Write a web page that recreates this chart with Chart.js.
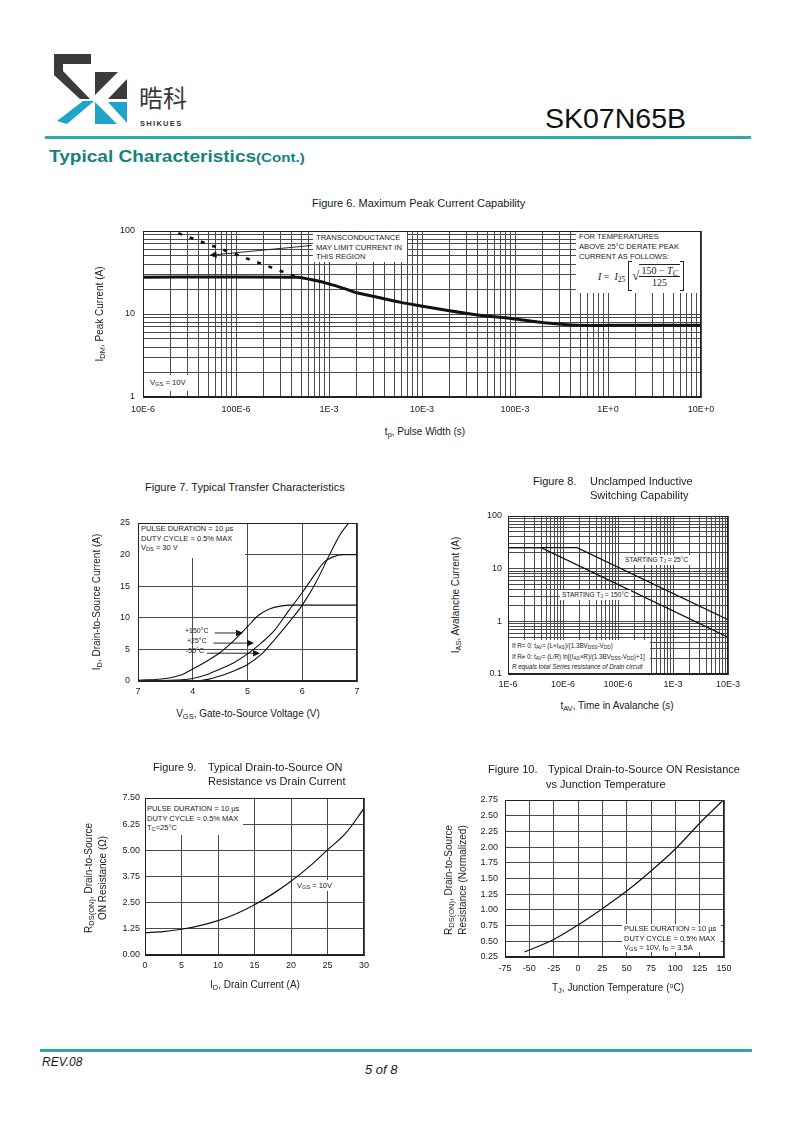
<!DOCTYPE html>
<html><head><meta charset="utf-8">
<script src="https://cdn.jsdelivr.net/npm/chart.js@4/dist/chart.umd.min.js"></script>
<style>
html,body{margin:0;padding:0;background:#fff;}
#page{position:relative;width:800px;height:1132px;overflow:hidden;font-family:"Liberation Sans",Arial,sans-serif;color:#1a1a1a;}
.abs{position:absolute;white-space:nowrap;}
.ctr{position:absolute;white-space:nowrap;transform:translate(-50%,-50%);}
.rot{position:absolute;white-space:nowrap;transform:translate(-50%,-50%) rotate(-90deg);text-align:center;}
canvas{position:absolute;}
.ttl{font-size:11px;line-height:12px;}
.axt{font-size:10px;line-height:14px;}
.box{position:absolute;background:#fff;font-size:7.5px;line-height:9.6px;white-space:nowrap;box-sizing:border-box;}
sub{font-size:75%;vertical-align:-0.25em;line-height:0;}
sup{font-size:70%;vertical-align:0.4em;line-height:0;}
.formula{display:flex;align-items:center;font-family:"Liberation Serif","DejaVu Serif",serif;font-size:10px;}
.brk{display:inline-block;width:3px;height:28px;border:1px solid #222;}
.brk.l{border-right:none;margin-left:3px;}
.brk.r{border-left:none;}
.frac{display:inline-flex;flex-direction:column;align-items:center;line-height:11px;}
.num{border-top:1px solid #222;border-bottom:1px solid #222;padding:0 2px;}
</style></head>
<body>
<div id="page">
  <!-- logo -->
  <svg class="abs" style="left:0;top:0" width="200" height="140" viewBox="0 0 200 140">
    <polygon points="54,54 91,54 91,64 63,64 63,71 90,99 80,99 54,75" fill="#3b3b3b"/>
    <polygon points="95,72 118,72 95,95" fill="#3b3b3b"/>
    <polygon points="108,99 127,79 127,99" fill="#3b3b3b"/>
    <polygon points="57,121 67,124 94,101 83,101" fill="#1ea4c6"/>
    <polygon points="95,102 117,124 95,124" fill="#1ea4c6"/>
    <polygon points="108,102 127,102 127,123" fill="#1ea4c6"/>
  </svg>
  <div class="abs" style="left:139px;top:83px;font-family:'Noto Sans CJK SC';font-size:24px;line-height:28px;color:#3a3a3a;">晧科</div>
  <div class="abs" style="left:140px;top:119px;font-size:7.5px;font-weight:bold;letter-spacing:1.3px;color:#333;">SHIKUES</div>
  <div class="abs" style="left:545px;top:103px;font-size:28.5px;line-height:30px;color:#111;">SK07N65B</div>
  <div class="abs" style="left:45px;top:136px;width:706px;height:3px;background:#2ea9a6;"></div>
  <div class="abs" style="left:49px;top:147px;line-height:20px;color:#15827c;font-weight:bold;transform:scaleX(1.12);transform-origin:0 0;"><span style="font-size:17px;">Typical Characteristics</span><span style="font-size:13.5px;">(Cont.)</span></div>

  <div id="charts"></div>

  <!-- Figure 6 texts -->
  <div class="abs ttl" style="left:312px;top:197px;">Figure 6. Maximum Peak Current Capability</div>
  <div class="rot axt" style="left:100px;top:314px;">I<sub>DM</sub>, Peak Current (A)</div>
  <div class="ctr axt" style="left:425px;top:432px;">t<sub>p</sub>, Pulse Width (s)</div>
  <div class="box" style="left:313px;top:232px;width:94px;height:30px;padding:1px 0 0 3px;font-size:7.6px;">TRANSCONDUCTANCE<br>MAY LIMIT CURRENT IN<br>THIS REGION</div>
  <div class="box" style="left:576px;top:232px;width:124px;height:61px;padding:0 0 0 3px;font-size:7.6px;line-height:10px;">FOR TEMPERATURES<br>ABOVE 25°C DERATE PEAK<br>CURRENT AS FOLLOWS:</div>
  <div class="abs formula" style="left:598px;top:261px;">
    <span><i>I</i>&nbsp;=&nbsp; <i>I</i><sub>25</sub></span><span class="brk l"></span><span style="font-size:13px;">√</span><span class="frac"><span class="num">150 − <i>T</i><sub><i>C</i></sub></span><span>125</span></span><span class="brk r"></span>
  </div>
  <div class="box" style="left:146px;top:375px;width:44px;height:16px;padding:3px 0 0 4px;font-size:7.6px;">V<sub>GS</sub> = 10V</div>

  <!-- Figure 7 texts -->
  <div class="abs ttl" style="left:145px;top:481px;">Figure 7. Typical Transfer Characteristics</div>
  <div class="rot axt" style="left:97px;top:602px;">I<sub>D</sub>, Drain-to-Source Current (A)</div>
  <div class="ctr axt" style="left:248px;top:714px;">V<sub>GS</sub>, Gate-to-Source Voltage (V)</div>
  <div class="box" style="left:139px;top:524px;width:106px;height:34px;padding:0 0 0 2px;">PULSE DURATION = 10 µs<br>DUTY CYCLE = 0.5% MAX<br>V<sub>DS</sub> = 30 V</div>
  <div class="abs" style="left:185px;top:627px;font-size:7px;">+150°C</div>
  <div class="abs" style="left:187px;top:637px;font-size:7px;">+25°C</div>
  <div class="abs" style="left:186px;top:647px;font-size:7px;">-55°C</div>

  <!-- Figure 8 texts -->
  <div class="abs ttl" style="left:533px;top:475px;">Figure 8.</div>
  <div class="abs ttl" style="left:590px;top:475px;">Unclamped Inductive</div>
  <div class="abs ttl" style="left:590px;top:489px;">Switching Capability</div>
  <div class="rot axt" style="left:456px;top:595px;">I<sub>AS</sub>, Avalanche Current (A)</div>
  <div class="ctr axt" style="left:617px;top:706px;">t<sub>AV</sub>, Time in Avalanche (s)</div>
  <div class="box" style="left:623px;top:555px;padding:0 2px;font-size:6.6px;line-height:10px;">STARTING T<sub>J</sub> = 25°C</div>
  <div class="box" style="left:560px;top:590px;padding:0 2px;font-size:6.6px;line-height:10px;">STARTING T<sub>J</sub> = 150°C</div>
  <div class="box" style="left:509px;top:640px;width:141px;height:33px;padding:1px 0 0 3px;font-size:6.3px;line-height:10.5px;">If R= 0: t<sub>AV</sub>= (L×I<sub>AS</sub>)/(1.3BV<sub>DSS</sub>-V<sub>DD</sub>)<br>If R≠ 0: t<sub>AV</sub>= (L/R) ln[(I<sub>AS</sub>×R)/(1.3BV<sub>DSS</sub>-V<sub>DD</sub>)+1]<br><i>R equals total Series resistance of Drain circuit</i></div>

  <!-- Figure 9 texts -->
  <div class="abs ttl" style="left:153px;top:761px;">Figure 9.</div>
  <div class="abs ttl" style="left:208px;top:761px;">Typical Drain-to-Source ON</div>
  <div class="abs ttl" style="left:208px;top:775px;">Resistance vs Drain Current</div>
  <div class="rot axt" style="left:96px;top:878px;">R<sub>DS(ON)</sub>, Drain-to-Source<br>ON Resistance (Ω)</div>
  <div class="ctr axt" style="left:255px;top:985px;">I<sub>D</sub>, Drain Current (A)</div>
  <div class="box" style="left:146px;top:799px;width:97px;height:36px;padding:5px 0 0 1px;">PULSE DURATION = 10 µs<br>DUTY CYCLE = 0.5% MAX<br>T<sub>C</sub>=25°C</div>
  <div class="box" style="left:296px;top:880px;padding:0 1px;line-height:11px;">V<sub>GS</sub> = 10V</div>

  <!-- Figure 10 texts -->
  <div class="abs ttl" style="left:488px;top:763px;">Figure 10.</div>
  <div class="abs ttl" style="left:548px;top:763px;">Typical Drain-to-Source ON Resistance</div>
  <div class="abs ttl" style="left:546px;top:778px;">vs Junction Temperature</div>
  <div class="rot axt" style="left:456px;top:880px;">R<sub>DS(ON)</sub>, Drain-to-Source<br>Resistance (Normalized)</div>
  <div class="ctr axt" style="left:618px;top:988px;">T<sub>J</sub>, Junction Temperature (<sup>o</sup>C)</div>
  <div class="box" style="left:622px;top:924px;width:99px;height:28px;padding:0 0 0 2px;">PULSE DURATION = 10 µs<br>DUTY CYCLE = 0.5% MAX<br>V<sub>GS</sub> = 10V, I<sub>D</sub> = 3.5A</div>

  <!-- footer -->
  <div class="abs" style="left:40px;top:1049px;width:712px;height:3px;background:#2ea9a6;"></div>
  <div class="abs" style="left:42px;top:1055px;font-size:12px;font-style:italic;">REV.08</div>
  <div class="abs" style="left:365px;top:1062px;font-size:13px;font-style:italic;">5 of 8</div>
</div>

<script>
// ================= DATA =================
// Figure 6 - Maximum Peak Current Capability
const fig6XTickValues = [1e-5, 1e-4, 1e-3, 1e-2, 1e-1, 1, 10];
const fig6XTickLabels = ['10E-6', '100E-6', '1E-3', '10E-3', '100E-3', '1E+0', '10E+0'];
const fig6YTickValues = [1, 10, 100];
const fig6YTickLabels = ['1', '10', '100'];
const fig6PulseWidth = [1e-5, 4.6e-4, 7.2e-4, 1.0e-3, 1.5e-3, 2.0e-3, 3.3e-3, 5.9e-3, 9.8e-3, 1.9e-2, 3.8e-2, 0.1, 0.22, 0.48, 1, 10];
const fig6PeakCurrent = [27.8, 27.8, 25.3, 23.1, 20.1, 18.0, 15.9, 13.8, 12.5, 11.0, 9.8, 8.7, 7.8, 7.3, 7.3, 7.3];
const fig6LimitWidth = [2.4e-5, 4.6e-4];
const fig6LimitCurrent = [94, 27.8];

// Figure 7 - Typical Transfer Characteristics
const fig7XTickValues = [3, 4, 5, 6, 7];
const fig7XTickLabels = ['7', '4', '5', '6', '7'];
const fig7YTickValues = [0, 5, 10, 15, 20, 25];
const fig7YTickLabels = ['0', '5', '10', '15', '20', '25'];
const fig7Vgs150 = [3, 3.5, 3.8, 4, 4.25, 4.5, 4.75, 5, 5.2, 5.4, 5.6, 5.8, 7];
const fig7Id150 = [0.1, 0.4, 1.0, 1.9, 3.1, 4.5, 6.4, 8.6, 10.4, 11.4, 11.85, 12, 12];
const fig7Vgs25 = [3, 3.8, 4, 4.25, 4.5, 4.75, 5, 5.25, 5.5, 5.75, 6, 6.25, 6.4, 6.55, 6.75, 7];
const fig7Id25 = [0, 0.2, 0.4, 1.0, 1.9, 2.9, 4.3, 6.0, 8.1, 11.1, 14, 17.1, 18.8, 19.6, 20, 20];
const fig7VgsM55 = [3, 4, 4.3, 4.5, 4.75, 5, 5.25, 5.5, 5.75, 6, 6.25, 6.5, 6.7, 6.85];
const fig7IdM55 = [0, 0, 0.3, 0.8, 1.6, 2.6, 4.2, 6.6, 9.2, 12, 15.6, 20, 23.3, 25];

// Figure 8 - Unclamped Inductive Switching Capability
const fig8XTickValues = [1e-6, 1e-5, 1e-4, 1e-3, 1e-2];
const fig8XTickLabels = ['1E-6', '10E-6', '100E-6', '1E-3', '10E-3'];
const fig8YTickValues = [0.1, 1, 10, 100];
const fig8YTickLabels = ['0.1', '1', '10', '100'];
const fig8Time25 = [1e-6, 1.8e-5, 1e-2];
const fig8Current25 = [25, 25, 1.07];
const fig8Time150 = [1e-6, 4e-6, 1e-2];
const fig8Current150 = [25, 25, 0.5];

// Figure 9 - On resistance vs drain current
const fig9XTickValues = [0, 5, 10, 15, 20, 25, 30];
const fig9XTickLabels = ['0', '5', '10', '15', '20', '25', '30'];
const fig9YTickValues = [0, 1.25, 2.5, 3.75, 5, 6.25, 7.5];
const fig9YTickLabels = ['0.00', '1.25', '2.50', '3.75', '5.00', '6.25', '7.50'];
const fig9Id = [0, 2.5, 5, 7.5, 10, 12.5, 15, 17.5, 20, 22.5, 25, 27.5, 30];
const fig9Rds = [1.07, 1.12, 1.23, 1.40, 1.64, 1.97, 2.40, 2.92, 3.52, 4.22, 5.02, 5.82, 7.0];

// Figure 10 - Normalized on resistance vs junction temperature
const fig10XTickValues = [-75, -50, -25, 0, 25, 50, 75, 100, 125, 150];
const fig10XTickLabels = ['-75', '-50', '-25', '0', '25', '50', '75', '100', '125', '150'];
const fig10YTickValues = [0.25, 0.5, 0.75, 1, 1.25, 1.5, 1.75, 2, 2.25, 2.5, 2.75];
const fig10YTickLabels = ['0.25', '0.50', '0.75', '1.00', '1.25', '1.50', '1.75', '2.00', '2.25', '2.50', '2.75'];
const fig10Tj = [-55, -25, 0, 25, 50, 75, 100, 125, 150];
const fig10Rds = [0.33, 0.53, 0.76, 1.02, 1.30, 1.62, 1.97, 2.38, 2.76];

// Annotation anchors (data units)
const fig6Arrow = {from: [6.5e-4, 67], to: [5.2e-5, 51]};
const fig7Arrows = [
  {from: [4.4, 7.6], to: [4.92, 7.6]},
  {from: [4.38, 6.0], to: [5.12, 6.0]},
  {from: [4.26, 4.4], to: [5.23, 4.4]}
];

// ================= HELPERS =================
const FONT = '"Liberation Sans", Arial, sans-serif';
const pts = (xs, ys) => xs.map((x, i) => ({x: x, y: ys[i]}));
function logGrid(decades) {
  const out = [];
  for (let i = 0; i < decades.length - 1; i++) {
    for (let k = 1; k < 10; k++) out.push(decades[i] * k);
  }
  out.push(decades[decades.length - 1]);
  return out;
}
function axis(o) {
  return {
    type: o.type, position: o.pos, min: o.min, max: o.max,
    afterBuildTicks: s => { s.ticks = o.grid.map(v => ({value: v})); },
    afterFit: s => { if (o.pos === 'left') s.width = o.size; else s.height = o.size; },
    ticks: {
      autoSkip: false, maxRotation: 0, minRotation: 0, padding: o.pad, color: '#1a1a1a',
      font: {family: FONT, size: 9},
      callback: (v) => {
        const i = o.values.findIndex(t => Math.abs(t - v) <= Math.abs(t) * 1e-6 + 1e-9);
        return i >= 0 ? o.labels[i] : '';
      }
    },
    grid: {color: '#4a4a4a', lineWidth: 1, drawTicks: false},
    border: {display: true, color: '#222', width: 1}
  };
}
const framePlugin = {
  id: 'frame',
  afterDatasetsDraw(chart) {
    const {ctx, chartArea: a} = chart;
    ctx.save(); ctx.strokeStyle = '#222'; ctx.lineWidth = 1;
    ctx.strokeRect(Math.round(a.left) + 0.5, Math.round(a.top) + 0.5, Math.round(a.width) - 1, Math.round(a.height) - 1);
    ctx.restore();
  }
};
const arrowPlugin = {
  id: 'arrows',
  afterDatasetsDraw(chart, args, opts) {
    const ctx = chart.ctx, xs = chart.scales.x, ys = chart.scales.y;
    (opts.items || []).forEach(a => {
      const x1 = xs.getPixelForValue(a.from[0]), y1 = ys.getPixelForValue(a.from[1]);
      const x2 = xs.getPixelForValue(a.to[0]), y2 = ys.getPixelForValue(a.to[1]);
      const ang = Math.atan2(y2 - y1, x2 - x1), L = 7, W = 3.3;
      const bx = x2 - L * Math.cos(ang), by = y2 - L * Math.sin(ang);
      ctx.save(); ctx.strokeStyle = '#111'; ctx.fillStyle = '#111'; ctx.lineWidth = 0.9;
      ctx.beginPath(); ctx.moveTo(x1, y1); ctx.lineTo(bx, by); ctx.stroke();
      ctx.beginPath(); ctx.moveTo(x2, y2);
      ctx.lineTo(bx + W * Math.sin(ang), by - W * Math.cos(ang));
      ctx.lineTo(bx - W * Math.sin(ang), by + W * Math.cos(ang));
      ctx.closePath(); ctx.fill(); ctx.restore();
    });
  }
};
// rect = exact plot area on the page; pad = room around it for ticks (large enough that
// Chart.js' own label padding never pushes the plot area inward)
function makeChart(rect, pad, scales, datasets, arrows) {
  const c = document.createElement('canvas');
  const w = rect.w + pad.l + pad.r, h = rect.h + pad.t + pad.b;
  c.width = w; c.height = h;
  c.style.left = (rect.x - pad.l) + 'px'; c.style.top = (rect.y - pad.t) + 'px';
  c.style.width = w + 'px'; c.style.height = h + 'px';
  document.getElementById('charts').appendChild(c);
  return new Chart(c, {
    type: 'line',
    data: {datasets: datasets},
    options: {
      responsive: false, animation: false, devicePixelRatio: 1,
      layout: {padding: {top: pad.t, right: pad.r, left: 0, bottom: 0}},
      plugins: {legend: {display: false}, tooltip: {enabled: false}, arrows: {items: arrows || []}},
      elements: {point: {radius: 0}},
      scales: scales
    },
    plugins: [framePlugin, arrowPlugin]
  });
}
const curve = (data, extra) => Object.assign({data: data, borderColor: '#111', borderWidth: 1.1, pointRadius: 0, fill: false, cubicInterpolationMode: 'monotone'}, extra || {});

// ================= FIGURE 6 =================
makeChart({x: 143, y: 231, w: 558, h: 166}, {l: 45, r: 28, t: 18, b: 24}, {
  x: axis({type: 'logarithmic', pos: 'bottom', min: 1e-5, max: 10, grid: logGrid(fig6XTickValues), values: fig6XTickValues, labels: fig6XTickLabels, size: 24, pad: 7}),
  y: axis({type: 'logarithmic', pos: 'left', min: 1, max: 100, grid: logGrid(fig6YTickValues), values: fig6YTickValues, labels: fig6YTickLabels, size: 45, pad: 8})
}, [
  curve(pts(fig6PulseWidth, fig6PeakCurrent), {borderWidth: 3, cubicInterpolationMode: 'default', tension: 0.2}),
  curve(pts(fig6LimitWidth, fig6LimitCurrent), {borderWidth: 2.6, borderDash: [4, 8], borderCapStyle: 'butt', cubicInterpolationMode: 'default', tension: 0})
], [fig6Arrow]);

// ================= FIGURE 7 =================
makeChart({x: 138, y: 523, w: 219, h: 158}, {l: 35, r: 20, t: 18, b: 24}, {
  x: axis({type: 'linear', pos: 'bottom', min: 3, max: 7, grid: fig7XTickValues, values: fig7XTickValues, labels: fig7XTickLabels, size: 24, pad: 5}),
  y: axis({type: 'linear', pos: 'left', min: 0, max: 25, grid: fig7YTickValues, values: fig7YTickValues, labels: fig7YTickLabels, size: 35, pad: 8})
}, [
  curve(pts(fig7Vgs150, fig7Id150)),
  curve(pts(fig7Vgs25, fig7Id25)),
  curve(pts(fig7VgsM55, fig7IdM55))
], fig7Arrows);

// ================= FIGURE 8 =================
makeChart({x: 508, y: 516, w: 220, h: 158}, {l: 40, r: 26, t: 18, b: 24}, {
  x: axis({type: 'logarithmic', pos: 'bottom', min: 1e-6, max: 1e-2, grid: logGrid(fig8XTickValues), values: fig8XTickValues, labels: fig8XTickLabels, size: 24, pad: 5}),
  y: axis({type: 'logarithmic', pos: 'left', min: 0.1, max: 100, grid: logGrid(fig8YTickValues), values: fig8YTickValues, labels: fig8YTickLabels, size: 40, pad: 6})
}, [
  curve(pts(fig8Time25, fig8Current25), {borderWidth: 1.2, cubicInterpolationMode: 'default', tension: 0}),
  curve(pts(fig8Time150, fig8Current150), {borderWidth: 1.2, cubicInterpolationMode: 'default', tension: 0})
]);

// ================= FIGURE 9 =================
makeChart({x: 145, y: 798, w: 219, h: 157}, {l: 40, r: 20, t: 18, b: 24}, {
  x: axis({type: 'linear', pos: 'bottom', min: 0, max: 30, grid: fig9XTickValues, values: fig9XTickValues, labels: fig9XTickLabels, size: 24, pad: 5}),
  y: axis({type: 'linear', pos: 'left', min: 0, max: 7.5, grid: fig9YTickValues, values: fig9YTickValues, labels: fig9YTickLabels, size: 40, pad: 5})
}, [
  curve(pts(fig9Id, fig9Rds), {borderWidth: 1.2})
]);

// ================= FIGURE 10 =================
makeChart({x: 505, y: 800, w: 219, h: 157}, {l: 40, r: 22, t: 18, b: 24}, {
  x: axis({type: 'linear', pos: 'bottom', min: -75, max: 150, grid: fig10XTickValues, values: fig10XTickValues, labels: fig10XTickLabels, size: 24, pad: 6}),
  y: axis({type: 'linear', pos: 'left', min: 0.25, max: 2.75, grid: fig10YTickValues, values: fig10YTickValues, labels: fig10YTickLabels, size: 40, pad: 7})
}, [
  curve(pts(fig10Tj, fig10Rds), {borderWidth: 1.2})
]);
</script>
</body></html>
